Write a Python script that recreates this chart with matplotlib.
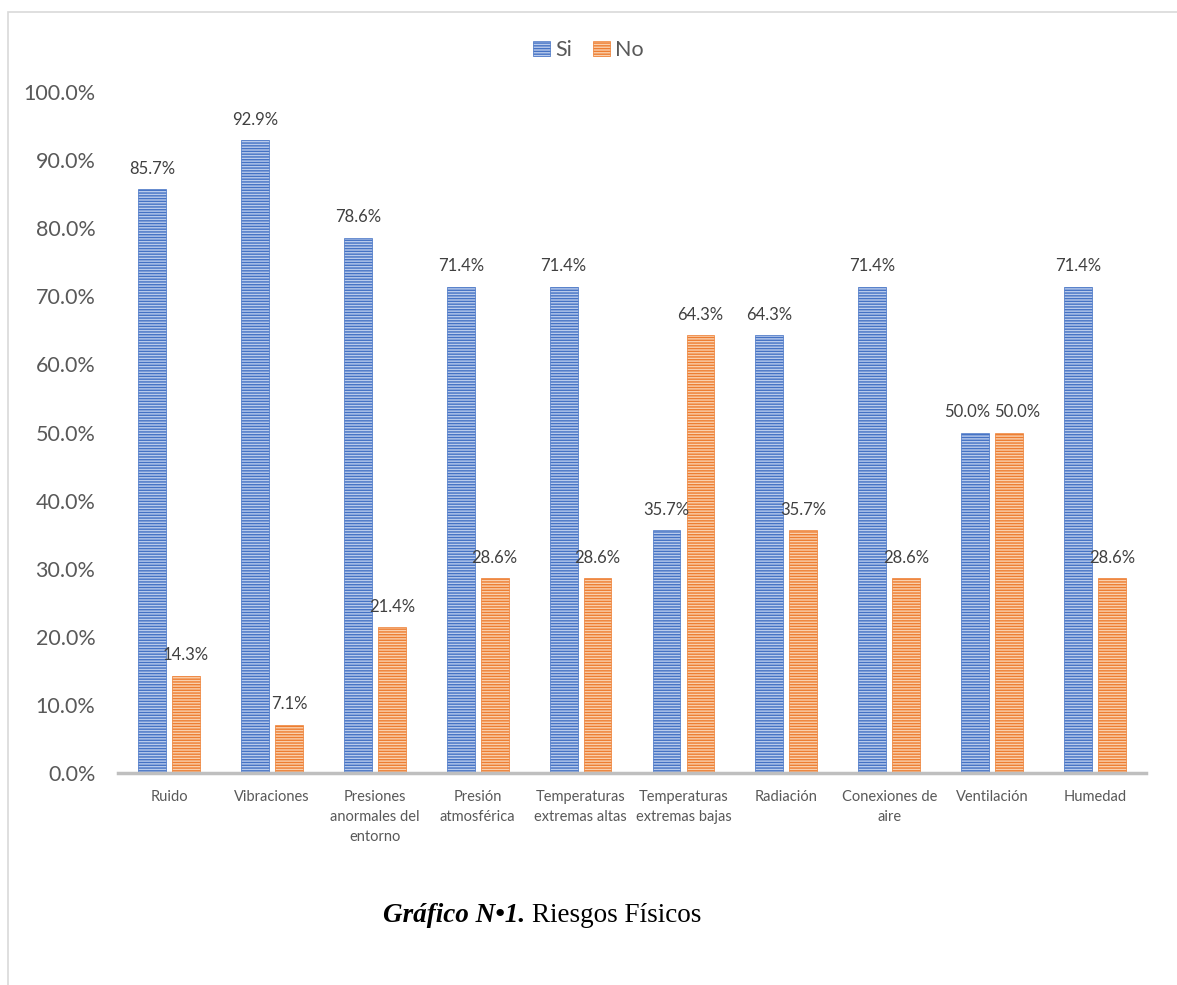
import numpy as np
import matplotlib
matplotlib.use("Agg")
import matplotlib.pyplot as plt
from matplotlib.patches import Rectangle

categories = ["Ruido", "Vibraciones", "Presiones\nanormales del\nentorno",
              "Presión\natmosférica", "Temperaturas\nextremas altas",
              "Temperaturas\nextremas bajas", "Radiación", "Conexiones de\naire",
              "Ventilación", "Humedad"]
si = [85.7, 92.9, 78.6, 71.4, 71.4, 35.7, 64.3, 71.4, 50.0, 71.4]
no = [14.3, 7.1, 21.4, 28.6, 28.6, 64.3, 35.7, 28.6, 50.0, 28.6]
yticks = np.arange(0, 101, 10)

plt.rcParams['font.family'] = ['Lato', 'DejaVu Sans']
plt.rcParams['hatch.linewidth'] = 1.0
txt = '#595959'

fig = plt.figure(figsize=(11.77, 9.85), dpi=100)
ax = fig.add_axes([0.1, 0.215, 0.874, 0.6916])

# outer light border (left and top)
fig.patches.append(Rectangle((8 / 1177, -0.1), 1.2, 1 - 12 / 985 + 0.1,
                             transform=fig.transFigure, fill=False,
                             edgecolor='#d9d9d9', linewidth=1.2))

x = np.arange(len(categories))
w = 0.27
b1 = ax.bar(x - 0.165, si, w, facecolor='#b9cbec', edgecolor='#4472c4',
            hatch='------', linewidth=0.5, label='Si')
b2 = ax.bar(x + 0.165, no, w, facecolor='#fad0ad', edgecolor='#ed7d31',
            hatch='------', linewidth=0.5, label='No')

for i in range(len(categories)):
    # labels pushed apart when both bars have the same height
    dx = 8 if si[i] == no[i] else 0
    for r, s in ((b1[i], -1), (b2[i], 1)):
        h = r.get_height()
        ax.annotate(f"{h:.1f}%", (r.get_x() + r.get_width() / 2, h),
                    xytext=(s * dx * 0.72, 9), textcoords='offset points',
                    ha='center', va='bottom', fontsize=12, color='#404040')

ax.set_xlim(-0.5, len(categories) - 0.5)
ax.set_ylim(0, 100)
ax.set_yticks(yticks)
ax.set_yticklabels([f"{v:.1f}%" for v in yticks], fontsize=15.5, color=txt)
ax.set_xticks(x)
ax.set_xticklabels(categories, fontsize=10.5, color=txt, linespacing=1.55,
                   va='top')
ax.tick_params(axis='both', length=0)
ax.tick_params(axis='x', pad=12)
ax.tick_params(axis='y', pad=16)
for s in ['top', 'right', 'left']:
    ax.spines[s].set_visible(False)
ax.spines['bottom'].set_color('#bfbfbf')
ax.spines['bottom'].set_linewidth(2.5)

fig.legend(handles=[b1, b2], loc='center', bbox_to_anchor=(0.5, 1 - 50 / 985),
           ncol=2, frameon=False, fontsize=15.5, handlelength=0.75,
           handleheight=0.75, handletextpad=0.25, columnspacing=1.0,
           labelcolor=txt)

t1 = fig.text(383 / 1177, 1 - 915 / 985, "Gráfico N•1.", family='Liberation Serif',
              fontsize=19.5, fontweight='bold', fontstyle='italic', ha='left',
              va='center')
fig.canvas.draw()
bb = t1.get_window_extent()
fig.text((bb.x1 + 7) / 1177, 1 - 915 / 985, "Riesgos Físicos",
         family='Liberation Serif', fontsize=19.5, ha='left', va='center')

fig.savefig("out.png", dpi=100)
